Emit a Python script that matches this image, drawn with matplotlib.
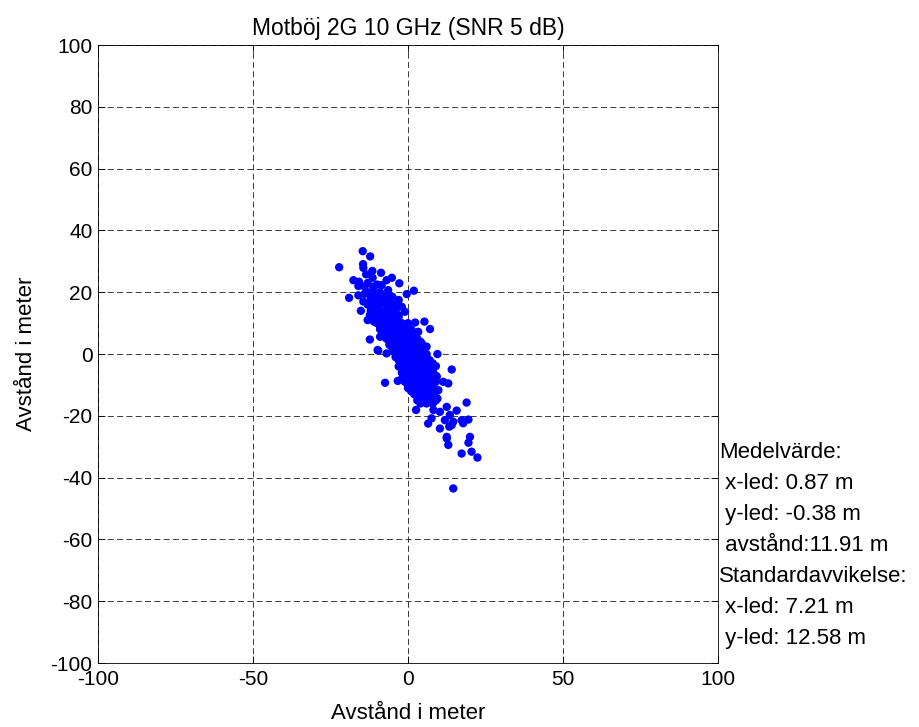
import matplotlib
matplotlib.use("Agg")
import matplotlib.pyplot as plt

plt.rcParams["font.family"] = ["Liberation Sans", "DejaVu Sans"]
plt.rcParams["lines.scale_dashes"] = False
plt.rcParams["axes.unicode_minus"] = False

# positions (x, y) in metres
# scattered points around the cloud
outer_pts = [
    (-14.6, 33.3), (-12.2, 31.6), (-22.2, 28.1), (-14.5, 29.1), (-14.4, 27.9),
    (-11.5, 26.9), (-8.7, 26.3), (-13.5, 25.8), (-17.6, 23.9), (-15.8, 23.4),
    (-11.4, 24.7), (-5.2, 24.7), (-2.8, 22.9), (-6.9, 23.9), (-14.0, 21.8),
    (-11.2, 21.8), (-8.5, 22.3), (-6.4, 20.7), (1.9, 20.5), (-0.4, 19.4),
    (-19.0, 18.2), (-12.3, 19.6), (-9.6, 19.1), (-14.4, 17.0), (-11.7, 17.0),
    (-8.0, 17.5), (-6.3, 17.0), (-4.2, 15.9), (-2.0, 15.3), (-15.2, 14.0),
    (-12.3, 12.6), (-10.1, 13.7), (-8.0, 13.7), (-5.8, 12.6), (-3.1, 12.6),
    (-1.0, 13.7), (5.3, 10.5), (7.1, 8.1), (-9.6, 9.9), (-7.4, 10.5),
    (2.3, 10.2), (3.3, 7.2), (-12.3, 4.7), (-9.0, 5.6), (4.4, 3.5),
    (-9.8, 1.3), (6.0, 2.4), (9.5, 0.0), (-6.9, 0.2), (9.0, -3.9),
    (14.1, -5.0), (-9.6, 1.1), (-7.4, -9.3), (-3.3, -8.7), (9.3, -7.3),
    (11.4, -9.0), (13.0, -9.5), (9.8, -11.7), (9.5, -14.4), (2.6, -18.1),
    (18.9, -15.7), (8.2, -18.1), (10.3, -18.7), (12.5, -17.1), (15.7, -18.3),
    (13.5, -19.7), (7.6, -20.8), (11.9, -21.4), (14.6, -21.9), (17.3, -21.4),
    (19.5, -21.2), (6.5, -22.5), (10.3, -24.1), (13.3, -23.5), (12.5, -26.8),
    (20.0, -26.8), (13.0, -29.4), (12.5, -27.3), (19.5, -28.7), (17.3, -32.2),
    (20.5, -31.6), (22.4, -33.5), (14.6, -43.5), (14.1, -23.0), (17.8, -22.4),
    (-13, 20), (-11, 20), (-9, 20), (-12, 18), (-10, 18), (-8, 18),
    (-13, 16), (-11, 16), (-9, 16), (-7, 16), (-5, 16),
    (-12, 14), (-10, 14), (-6, 14), (-4, 14),
    (-11, 12), (-9, 12), (-7, 12), (-5, 12), (-3, 12),
    (-16, 22), (-13, 23), (-10, 22.5), (-16, 19), (-14, 19.5),
    (-7, 19), (-5, 18.5), (-3, 17.5), (-13, 11), (-11, 10.5),
]

# dense core of the cloud
core_pts = [
    (-10, 10), (-8, 10), (-6, 10), (-4, 10), (-2, 10), (0, 10),
    (-9, 9), (-7, 9), (-5, 9), (-3, 9), (-1, 9),
    (-9, 8), (-7, 8), (-5, 8), (-3, 8), (-1, 8), (1, 8),
    (-8, 7), (-6, 7), (-4, 7), (-2, 7), (0, 7), (2, 7),
    (-8, 6), (-6, 6), (-4, 6), (-2, 6), (0, 6), (2, 6),
    (-7, 5), (-5, 5), (-3, 5), (-1, 5), (1, 5), (3, 5),
    (-6, 4), (-4, 4), (-2, 4), (0, 4), (2, 4), (4, 4),
    (-6, 3), (-4, 3), (-2, 3), (0, 3), (2, 3), (4, 3),
    (-5, 2), (-3, 2), (-1, 2), (1, 2), (3, 2), (5, 2),
    (-5, 1), (-3, 1), (-1, 1), (1, 1), (3, 1), (5, 1),
    (-4, 0), (-2, 0), (0, 0), (2, 0), (4, 0), (6, 0),
    (-4, -1), (-2, -1), (0, -1), (2, -1), (4, -1), (6, -1),
    (-3, -2), (-1, -2), (1, -2), (3, -2), (5, -2), (7, -2),
    (-2, -3), (0, -3), (2, -3), (4, -3), (6, -3), (8, -3),
    (-3, -4), (-1, -4), (1, -4), (3, -4), (5, -4), (7, -4),
    (-2, -5), (0, -5), (2, -5), (4, -5), (6, -5), (8, -5),
    (-2, -6), (0, -6), (2, -6), (4, -6), (6, -6), (8, -6),
    (-1, -7), (1, -7), (3, -7), (5, -7), (7, -7), (9, -7),
    (-2, -8), (0, -8), (2, -8), (4, -8), (6, -8), (8, -8),
    (-1, -9), (1, -9), (3, -9), (5, -9), (7, -9), (9, -9),
    (0, -10), (2, -10), (4, -10), (6, -10), (8, -10),
    (0, -11), (2, -11), (4, -11), (6, -11), (8, -11),
    (1, -12), (3, -12), (5, -12), (7, -12), (9, -12),
    (2, -13), (4, -13), (6, -13), (8, -13),
    (3, -14), (5, -14), (7, -14), (9, -14),
    (3, -15), (5, -15), (7, -15), (9, -15),
    (4, -16), (6, -16), (8, -16),
]

stats_lines = [
    "Medelvärde:",
    " x-led: 0.87 m",
    " y-led: -0.38 m",
    " avstånd:11.91 m",
    "Standardavvikelse:",
    " x-led: 7.21 m",
    " y-led: 12.58 m",
]

yticks = [-100, -80, -60, -40, -20, 0, 20, 40, 60, 80, 100]
xticks = [-100, -50, 0, 50, 100]

pts = outer_pts + core_pts
x_m = [p[0] for p in pts]
y_m = [p[1] for p in pts]

fig = plt.figure(figsize=(9.19, 7.27), dpi=100)
ax = fig.add_axes([0.1066, 0.088, 0.6747, 0.850])

ax.scatter(x_m, y_m, s=36, color=(0, 0, 1), edgecolors="none", zorder=3)

ax.set_xlim(-100, 100)
ax.set_ylim(-100, 100)
ax.set_xticks(xticks)
ax.set_yticks(yticks)
ax.tick_params(direction="in", top=True, right=True, length=5, width=0.6,
               labelsize=15)
ax.tick_params(axis="x", pad=5)
ax.tick_params(axis="y", pad=4)
ax.grid(True, color="0.1", linewidth=0.6, linestyle=(0, (4.3, 2.4)))
ax.set_axisbelow(True)
for s in ax.spines.values():
    s.set_linewidth(0.6)

ax.set_title("Motböj 2G 10 GHz (SNR 5 dB)", fontsize=16.5, pad=7)
ax.set_xlabel("Avstånd i meter", fontsize=16, labelpad=10)
ax.set_ylabel("Avstånd i meter", fontsize=16, labelpad=10)

for i, line in enumerate(stats_lines):
    ax.text(100.3, -32 - 10 * i, line, fontsize=16, ha="left", va="center",
            clip_on=False)

fig.savefig("out.png", dpi=100)
